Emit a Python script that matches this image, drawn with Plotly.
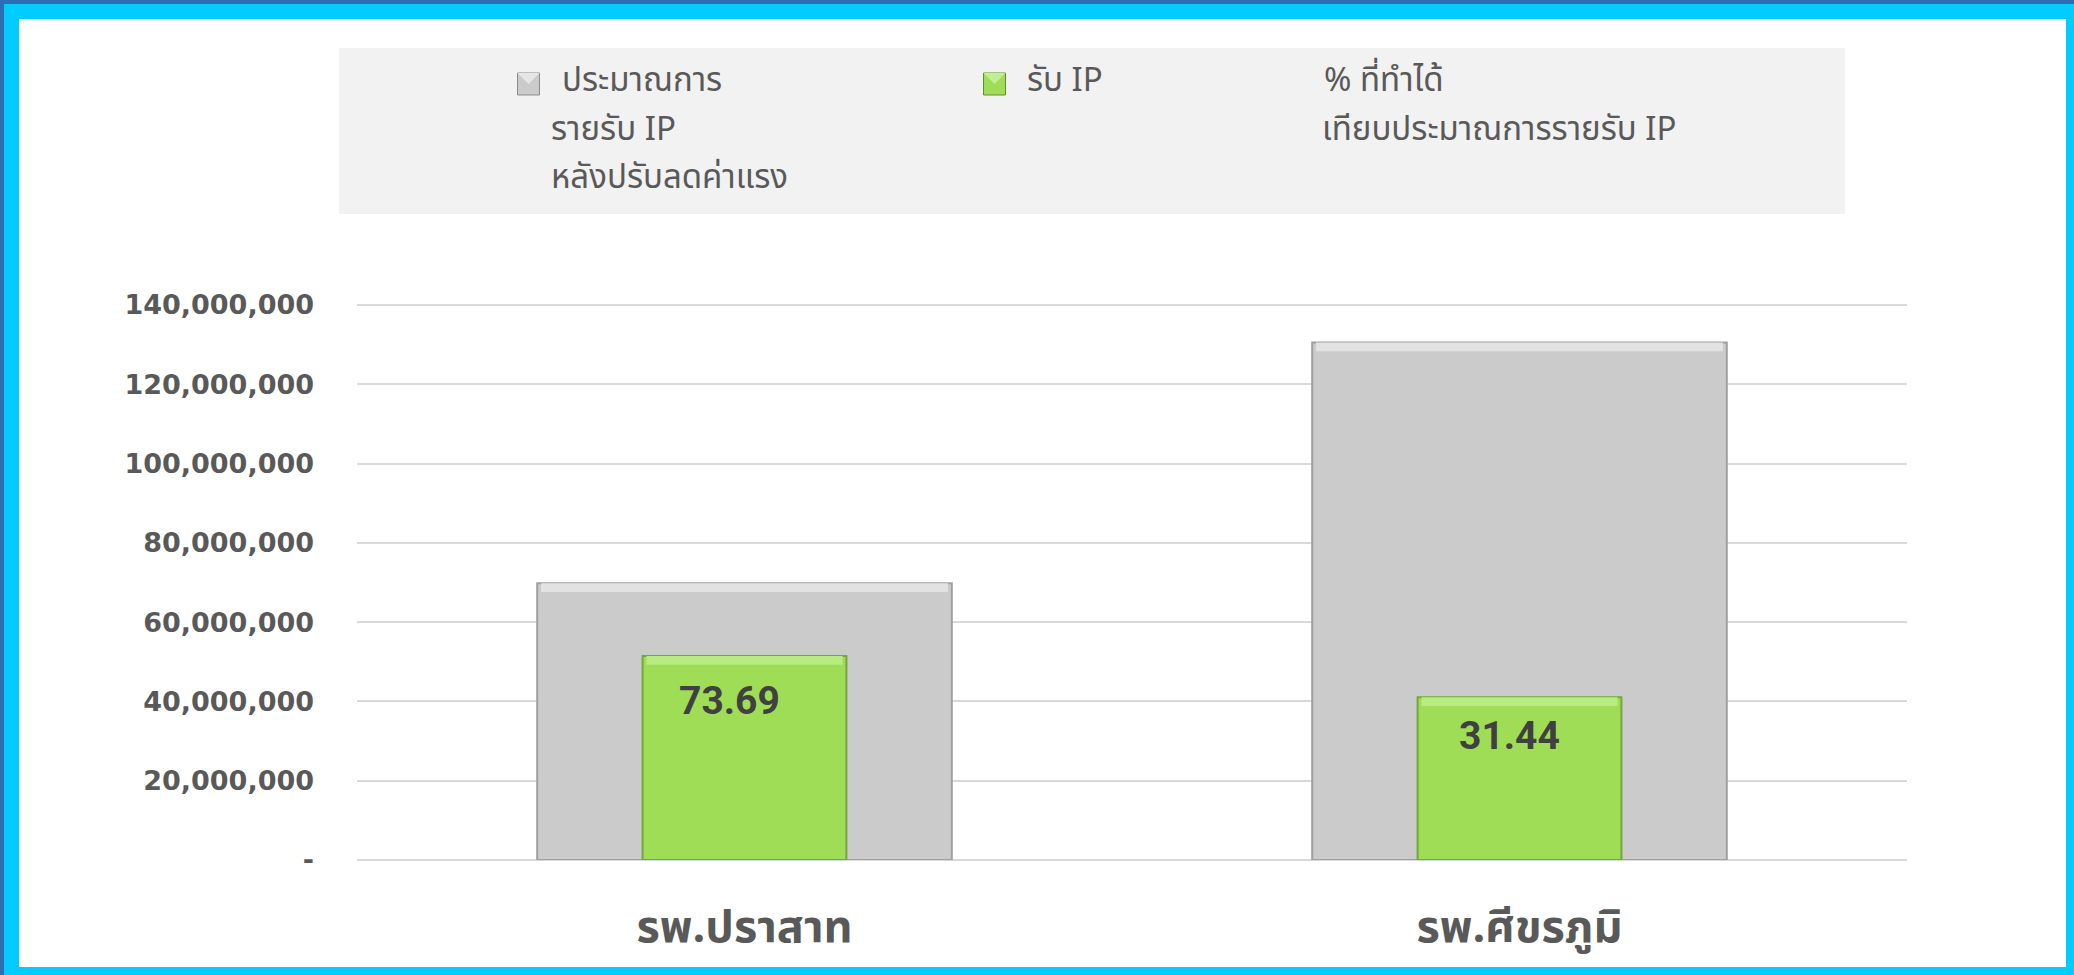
import plotly.graph_objects as go

# ---------------- data ----------------
categories = ["รพ.ปราสาท", "รพ.ศีขรภูมิ"]
budget_ip = [69_800_000, 130_500_000]      # ประมาณการรายรับ IP หลังปรับลดค่าแรง
received_ip = [51_430_000, 41_030_000]     # รับ IP
pct_achieved = ["73.69", "31.44"]          # % ที่ทำได้ เทียบประมาณการรายรับ IP
y_tickvals = [0, 20_000_000, 40_000_000, 60_000_000, 80_000_000,
              100_000_000, 120_000_000, 140_000_000]
y_ticktext = ["-", "20,000,000", "40,000,000", "60,000,000", "80,000,000",
              "100,000,000", "120,000,000", "140,000,000"]
legend_budget = ["ประมาณการ", "รายรับ IP", "หลังปรับลดค่าแรง"]
legend_received = ["รับ IP"]
legend_pct = ["% ที่ทำได้", "เทียบประมาณการรายรับ IP"]

# ---------------- layout geometry ----------------
W, H = 2074, 975
L, R, T, B = 357, 2074 - 1907, 297, 975 - 860
PW, PH = W - L - R, H - T - B
Y_MAX = 142_000_000
BEVEL = 2_200_000   # height of the light top bevel strip, in axis units (style only)


def px(x):
    return (x - L) / PW


def py(y):
    return (H - B - y) / PH


THAI = "Noto Sans Thai, Leelawadee UI, Tahoma, Noto Sans, sans-serif"
GRAY = "#CBCBCB"
GREEN = "#9FDD57"
TEXT = "#595959"

fig = go.Figure()
fig.add_trace(go.Bar(
    x=categories, y=budget_ip, name="ประมาณการรายรับ IP หลังปรับลดค่าแรง",
    width=0.535, marker=dict(color=GRAY, line=dict(color="#A0A0A0", width=2)),
    showlegend=False, hoverinfo="x+y",
))
fig.add_trace(go.Bar(
    x=categories, y=[BEVEL] * len(categories), base=[v - BEVEL for v in budget_ip],
    width=0.525, marker=dict(color="#E2E2E2", line=dict(width=0)),
    showlegend=False, hoverinfo="skip",
))
fig.add_trace(go.Bar(
    x=categories, y=received_ip, name="รับ IP",
    width=0.263, marker=dict(color=GREEN, line=dict(color="#74A63E", width=2)),
    showlegend=False, hoverinfo="x+y",
))
fig.add_trace(go.Bar(
    x=categories, y=[BEVEL] * len(categories), base=[v - BEVEL for v in received_ip],
    width=0.253, marker=dict(color="#B9EC80", line=dict(width=0)),
    showlegend=False, hoverinfo="skip",
))

shapes = [
    dict(type="rect", xref="paper", yref="paper", layer="below",
         x0=px(0), x1=px(W), y0=py(4), y1=py(0),
         fillcolor="#2E6DB4", line=dict(width=0)),
    dict(type="rect", xref="paper", yref="paper", layer="below",
         x0=px(0), x1=px(4), y0=py(H), y1=py(0),
         fillcolor="#2E6DB4", line=dict(width=0)),
    dict(type="rect", xref="paper", yref="paper", layer="below",
         x0=px(19), x1=px(2066), y0=py(967), y1=py(19),
         fillcolor="white", line=dict(width=0)),
    dict(type="rect", xref="paper", yref="paper", layer="below",
         x0=px(339), x1=px(1845), y0=py(214), y1=py(48),
         fillcolor="#F2F2F2", line=dict(width=0)),
]

# legend swatches
for cx, fill, dark, light in [(528.5, GRAY, "#8A8A8A", "#E6E6E6"),
                             (994.5, GREEN, "#5E8F2C", "#C4EE94")]:
    s = 11
    shapes.append(dict(type="rect", xref="paper", yref="paper",
                       x0=px(cx - s), x1=px(cx + s), y0=py(84 + s), y1=py(84 - s),
                       fillcolor=fill, line=dict(color=dark, width=1)))
    shapes.append(dict(type="path", xref="paper", yref="paper",
                       path=f"M {px(cx - s)} {py(84 - s)} L {px(cx + s)} {py(84 - s)} "
                            f"L {px(cx)} {py(84)} Z",
                       fillcolor=light, line=dict(width=0)))

annotations = []
legend_lines = [
    (560, 81, legend_budget[0]), (549, 130, legend_budget[1]), (549, 178, legend_budget[2]),
    (1025, 81, legend_received[0]),
    (1322, 81, legend_pct[0]), (1320, 130, legend_pct[1]),
]
for x, y, t in legend_lines:
    annotations.append(dict(xref="paper", yref="paper", x=px(x), y=py(y), text=t,
                            showarrow=False, xanchor="left", yanchor="middle",
                            font=dict(family=THAI, size=33, color=TEXT)))

# data labels (% achieved) on green bars
for cat, val, lab, xs, ys in zip(categories, received_ip, pct_achieved, [-15, -10], [-45, -39]):
    annotations.append(dict(xref="x", yref="y", x=cat, y=val, text=lab, showarrow=False,
                            xanchor="center", yanchor="middle", xshift=xs, yshift=ys,
                            font=dict(family="Roboto", size=39, color="#404040", weight="bold")))

fig.update_layout(
    width=W, height=H,
    margin=dict(l=L, r=R, t=T, b=B, pad=0),
    paper_bgcolor="#00CCFF",
    plot_bgcolor="rgba(0,0,0,0)",
    barmode="overlay",
    shapes=shapes,
    annotations=annotations,
    xaxis=dict(range=[-0.5, 1.5], showgrid=False, zeroline=False, showline=False,
               ticks="", tickfont=dict(family=THAI, size=45, color=TEXT, weight="bold"),
               ticklabelstandoff=36),
    yaxis=dict(range=[0, Y_MAX], tickvals=y_tickvals, ticktext=y_ticktext,
               showgrid=True, gridcolor="#D9D9D9", gridwidth=2,
               zeroline=True, zerolinecolor="#D9D9D9", zerolinewidth=2,
               showline=False, ticks="", ticklabelstandoff=42,
               tickfont=dict(family="DejaVu Sans", size=27, color=TEXT, weight="bold")),
    showlegend=False,
)

fig.write_html(
    "out.html",
    config={"displayModeBar": False},
    post_script="document.body.style.margin='0';document.body.style.overflow='hidden';",
)
